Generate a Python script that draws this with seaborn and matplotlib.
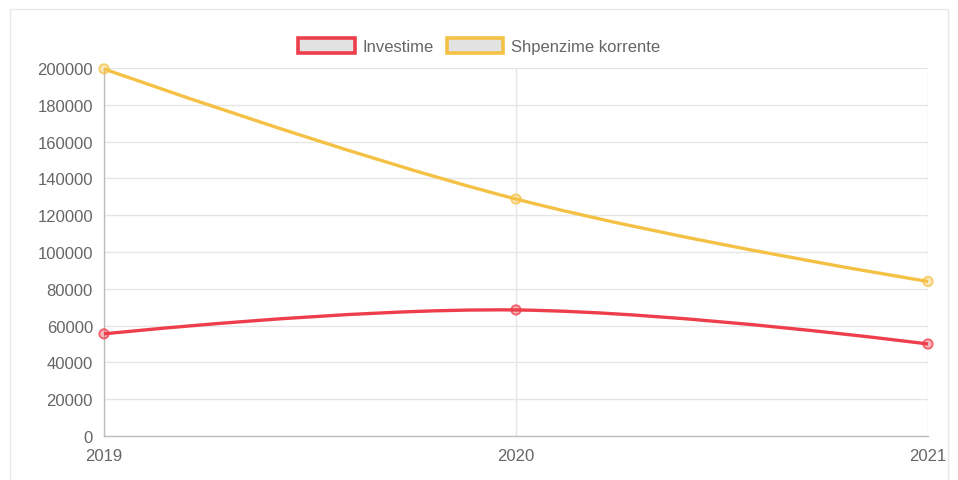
import numpy as np
import pandas as pd
import matplotlib
matplotlib.use("Agg")
import matplotlib.pyplot as plt
import seaborn as sns
from matplotlib.path import Path
from matplotlib.patches import PathPatch, Patch, Rectangle

# te dhenat e lexuara nga grafiku
vitet = [2019, 2020, 2021]
investime = [55500, 68500, 50000]
shpenzime_korrente = [199500, 128800, 84000]

emrat = ['Investime', 'Shpenzime korrente']
ngjyrat = ['#ee3e4b', '#f4c145']

df = pd.DataFrame({
    'Viti': vitet * 2,
    'Vlera': investime + shpenzime_korrente,
    'Seria': [emrat[0]] * 3 + [emrat[1]] * 3,
})

sns.set_style('white')
plt.rcParams['font.family'] = ['Liberation Sans', 'DejaVu Sans']

fig = plt.figure(figsize=(9.58, 4.81), dpi=100)
ax = fig.add_axes([104 / 958, 1 - 437 / 481, 824 / 958, 368 / 481])

ax.set_xlim(2019, 2021)
ax.set_ylim(0, 200000)
ax.grid(True, color='#e6e6e6', linewidth=1)
ax.set_axisbelow(True)
for s in ['top', 'right']:
    ax.spines[s].set_visible(False)
for s in ['left', 'bottom']:
    ax.spines[s].set_color('#bdbdbd')
    ax.spines[s].set_linewidth(1)


def kurba(xs, ys, tension=0.4):
    # kurbe e lemuar si ne chart.js, llogaritur ne koordinata te boshteve
    pts = ax.transAxes.inverted().transform(ax.transData.transform(np.column_stack([xs, ys])))
    pts = pts * np.array([824, 368])
    n = len(pts)
    cp_prev = pts.copy()
    cp_next = pts.copy()
    for i in range(1, n - 1):
        p0, p1, p2 = pts[i - 1], pts[i], pts[i + 1]
        d01 = np.hypot(*(p1 - p0))
        d12 = np.hypot(*(p2 - p1))
        fa = tension * d01 / (d01 + d12)
        fb = tension * d12 / (d01 + d12)
        cp_prev[i] = p1 - fa * (p2 - p0)
        cp_next[i] = p1 + fb * (p2 - p0)
    verts = [pts[0]]
    codes = [Path.MOVETO]
    for i in range(n - 1):
        verts += [cp_next[i], cp_prev[i + 1], pts[i + 1]]
        codes += [Path.CURVE4] * 3
    verts = np.array(verts) / np.array([824, 368])
    return Path(verts, codes)


for emri, ngjyra in zip(emrat, ngjyrat):
    d = df[df['Seria'] == emri]
    path = kurba(d['Viti'].values, d['Vlera'].values)
    ax.add_patch(PathPatch(path, transform=ax.transAxes, fill=False,
                           edgecolor=ngjyra, linewidth=2.4, clip_on=False, zorder=3))

sns.scatterplot(data=df, x='Viti', y='Vlera', hue='Seria', palette=ngjyrat,
                ax=ax, s=45, linewidth=1.4, legend=False, zorder=4, clip_on=False)
ngj_pikat = [ngjyrat[0]] * 3 + [ngjyrat[1]] * 3
ax.collections[-1].set_facecolor([matplotlib.colors.to_rgba(c, 0.35) for c in ngj_pikat])
ax.collections[-1].set_edgecolor([matplotlib.colors.to_rgba(c, 0.75) for c in ngj_pikat])

ax.set_xticks(vitet)
ax.set_xticklabels([str(v) for v in vitet])
ax.set_yticks(range(0, 200001, 20000))
ax.tick_params(axis='both', colors='#d0d0d0', length=7, width=1,
               labelcolor='#666666', labelsize=12)
ax.tick_params(axis='x', pad=2)
ax.tick_params(axis='y', pad=1)
ax.set_xlabel('')
ax.set_ylabel('')

# legjenda
handles = [Patch(facecolor='#e2e2e2', edgecolor=c, linewidth=2.6, label=e)
           for e, c in zip(emrat, ngjyrat)]
fig.legend(handles=handles, loc='center', bbox_to_anchor=(0.5, 1 - 47 / 481),
           ncol=2, frameon=False, fontsize=12, labelcolor='#666666',
           handlelength=3.4, handleheight=1.0, handletextpad=0.45, columnspacing=0.8)

# korniza e jashtme
fig.patches.append(Rectangle((10 / 958, -0.05), 938 / 958, 1 - 10 / 481 + 0.05,
                             transform=fig.transFigure, fill=False,
                             edgecolor='#e8e8e8', linewidth=1))

fig.savefig('out.png', dpi=100)
